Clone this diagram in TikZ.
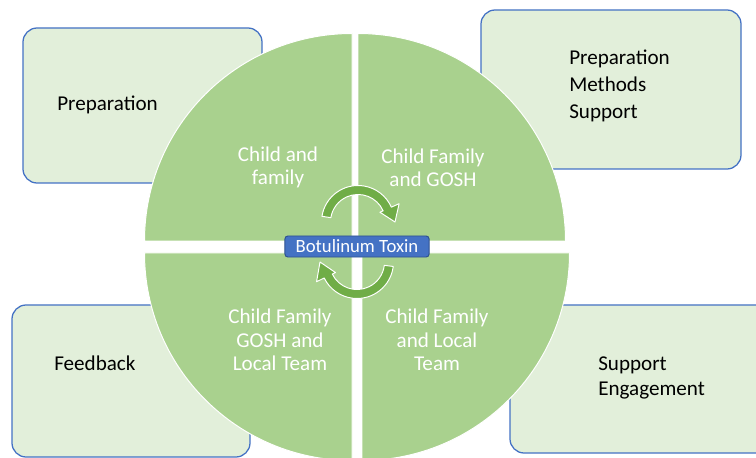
\documentclass[tikz,border=0pt]{standalone}
\usepackage{fontspec}
\setmainfont{Carlito}
\usetikzlibrary{calc}

\definecolor{quadgreen}{HTML}{A9D18E}
\definecolor{arrowgreen}{HTML}{70AD47}
\definecolor{panelfill}{HTML}{E2EFDA}
\definecolor{panelblue}{HTML}{4472C4}
\definecolor{toxinborder}{HTML}{2F528F}

\begin{document}
\begin{tikzpicture}[x=0.025cm, y=0.025cm, line join=round,
  panel/.style={fill=panelfill, draw=panelblue, line width=0.9pt, rounded corners=10pt},
  quad/.style={fill=quadgreen, draw=white, line width=0.7pt},
  quadtext/.style={text=white, align=center, inner sep=0pt,
    font=\fontsize{15}{16.6}\selectfont},
  paneltext/.style={text=black, align=left, anchor=west, inner sep=0pt,
    font=\fontsize{15}{18}\selectfont},
  cyclearrow/.style={fill=arrowgreen, draw=white, line width=0.7pt},
  toxinbox/.style={fill=panelblue, draw=toxinborder, line width=0.7pt,
    rounded corners=2pt, text=white, inner sep=0pt,
    minimum width=3.6cm, minimum height=0.525cm,
    font=\fontsize{13.3}{15}\selectfont}]

\useasboundingbox (0,0) rectangle (756,-458);
\clip (0,0) rectangle (756,-458);

% ----------------------------
% PARAMETERS
% ----------------------------
\def\R{207.5}     % quadrant radius
\def\rin{27.5}    % arrow band inner radius
\def\rout{36.5}   % arrow band outer radius

\coordinate (cTL) at (352,-241);
\coordinate (cTR) at (358,-241);
\coordinate (cBL) at (352,-253);
\coordinate (cBR) at (362,-253);
\coordinate (cTop) at (358,-222);   % centre of upper arrow
\coordinate (cBot) at (357,-262);   % centre of lower arrow

% ----------------------------
% SIDE PANELS
% ----------------------------
\draw[panel] (23,-28) rectangle (262,-183);
\draw[panel] (481,-10) rectangle (741,-169);
\draw[panel] (12,-305) rectangle (250,-457);
\draw[panel] (510,-305) rectangle (775,-453);

\node[paneltext] (prep) at (57,-105) {Preparation};
\node[paneltext, font=\fontsize{15}{19}\selectfont] (prepmeth) at (569,-86)
  {Preparation\\Methods\\Support};
\node[paneltext] (feedback) at (54,-363) {Feedback};
\node[paneltext] (supeng) at (598,-378) {Support\\Engagement};

% ----------------------------
% QUADRANTS
% ----------------------------
\draw[quad] (cTL) -- ++(-\R,0) arc[start angle=180, end angle=90, radius=\R] -- cycle;
\draw[quad] (cTR) -- ++(0,\R) arc[start angle=90, end angle=0, radius=\R] -- cycle;
\draw[quad] (cBL) -- ++(0,-\R) arc[start angle=270, end angle=180, radius=\R] -- cycle;
\draw[quad] (cBR) -- ++(\R,0) arc[start angle=0, end angle=-90, radius=\R] -- cycle;

\node[quadtext] (childfam) at (278,-167.5) {Child and\\family};
\node[quadtext] (gosh) at (433,-167.5) {Child Family\\and GOSH};
\node[quadtext] (goshlocal) at (280,-340) {Child Family\\GOSH and\\Local Team};
\node[quadtext] (local) at (437,-340) {Child Family\\and Local\\Team};

% ----------------------------
% CYCLE ARROWS
% ----------------------------
% upper arrow, left to right over the top
\draw[cyclearrow]
  ($(cTop)+(171:\rout)$) arc[start angle=171, end angle=24, radius=\rout]
  -- ($(cTop)+(24:45)$) -- ($(cTop)+(0:37)$) -- ($(cTop)+(24:24)$)
  -- ($(cTop)+(24:\rin)$) arc[start angle=24, end angle=171, radius=\rin]
  -- cycle;

% lower arrow, right to left under the bottom
\draw[cyclearrow]
  ($(cBot)+(-7:\rout)$) arc[start angle=-7, end angle=-154, radius=\rout]
  -- ($(cBot)+(-154:45)$) -- ($(cBot)+(-180:37)$) -- ($(cBot)+(-154:24)$)
  -- ($(cBot)+(-154:\rin)$) arc[start angle=-154, end angle=-7, radius=\rin]
  -- cycle;

% ----------------------------
% CENTRE LABEL
% ----------------------------
\node[toxinbox] (toxin) at (357,-246.5) {Botulinum Toxin};

\end{tikzpicture}
\end{document}
